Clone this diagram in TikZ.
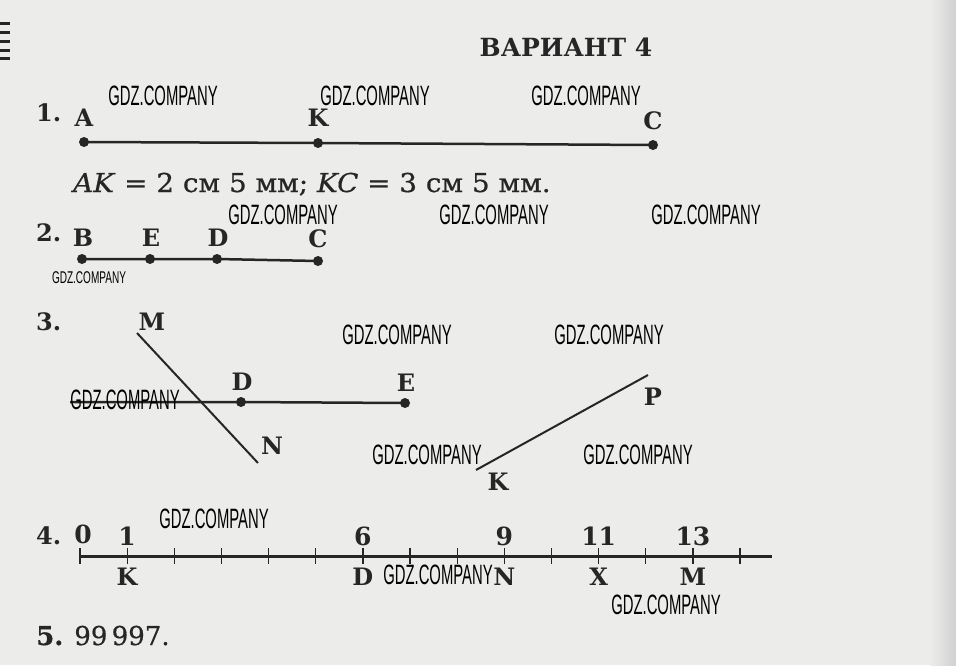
\documentclass[tikz,border=0pt]{standalone}
\usepackage{fontspec}
\usetikzlibrary{calc}
\setmainfont{DejaVu Serif}
\newfontfamily\medfont[FakeBold=0.6]{DejaVu Serif}
\newfontfamily\wmfont{Liberation Sans}
\definecolor{paper}{RGB}{236,236,234}
\definecolor{ink}{RGB}{38,38,38}
\newcommand{\gdz}[1][0.53]{\scalebox{#1}[1]{GDZ.COMPANY}}

\begin{document}
\begin{tikzpicture}[x=1pt,y=-1pt,
  lbl/.style={font=\fontsize{24}{24}\selectfont\bfseries,text=ink,inner sep=0pt},
  txt/.style={font=\fontsize{26}{26}\medfont,text=ink,inner sep=0pt,anchor=base west},
  seg/.style={draw=ink,line width=2.5pt},
  wm/.style={font=\fontsize{28}{28}\wmfont,text=black,inner sep=0pt}]

% page
\fill[paper] (0,0) rectangle (956,665);
\shade[left color=paper,right color=black!18] (930,0) rectangle (956,665);
\useasboundingbox (0,0) rectangle (956,665);
\foreach \y in {23,32,41,50,58}
  \fill[ink] (0,\y-1.5) rectangle (10,\y+1.5);

\node[font=\fontsize{25}{25}\selectfont\bfseries,text=ink,inner sep=0pt] (title) at (566,47) {ВАРИАНТ 4};

% 1
\node[lbl,anchor=base west] (n1) at (36,121) {1.};
\coordinate (A) at (84,142);
\coordinate (K) at (318,143);
\coordinate (C) at (653,145);
\draw[seg] (A) -- (K) -- (C);
\foreach \p in {A,K,C} \fill[ink] (\p) circle (5);
\node[lbl] (lA) at (84,118) {A};
\node[lbl] (lK) at (318,118) {K};
\node[lbl] (lC) at (653,121) {C};
\node[txt] (len) at (73,192) {\scalebox{1.07}[1]{\textit{AK} = 2 см 5 мм; \textit{KC} = 3 см 5 мм.}};

% 2
\node[lbl,anchor=base west] (n2) at (36,241) {2.};
\coordinate (B2) at (82,259);
\coordinate (E2) at (150,259);
\coordinate (D2) at (217,259);
\coordinate (C2) at (318,261);
\draw[seg] (B2) -- (E2) -- (D2) -- (C2);
\foreach \p in {B2,E2,D2,C2} \fill[ink] (\p) circle (5);
\node[lbl] (lB2) at (83,238) {B};
\node[lbl] (lE2) at (151,238) {E};
\node[lbl] (lD2) at (218,238) {D};
\node[lbl] (lC2) at (318,239) {C};

% 3
\node[lbl,anchor=base west] (n3) at (36,330) {3.};
\coordinate (M) at (137,333);
\coordinate (N) at (258,463);
\draw[seg,line width=2pt] (M) -- (N);
\coordinate (R) at (70,402);
\coordinate (D3) at (241,402);
\coordinate (E3) at (405,403);
\draw[seg] (R) -- (D3) -- (E3);
\foreach \p in {D3,E3} \fill[ink] (\p) circle (5);
\coordinate (K3) at (476,470);
\coordinate (P) at (648,375);
\draw[seg,line width=2pt] (K3) -- (P);
\node[lbl] (lM) at (152,322) {M};
\node[lbl] (lN) at (272,446) {N};
\node[lbl] (lD3) at (242,382) {D};
\node[lbl] (lE3) at (406,383) {E};
\node[lbl] (lK3) at (498,482) {K};
\node[lbl] (lP) at (653,397) {P};

% 4
\node[lbl,anchor=base west] (n4) at (36,544) {4.};
\foreach \i in {0,...,14}
  \coordinate (t\i) at (80+47.15*\i,556);
\coordinate (tend) at (772,556);
\draw[seg,line width=3pt] (t0) -- (tend);
\foreach \i in {0,...,14}
  \draw[ink,line width=1.3pt] ($(t\i)+(0,-8)$) -- ($(t\i)+(0,8)$);
\node[lbl,font=\fontsize{25}{25}\selectfont\bfseries] (l0) at ($(t0)+(3,-22)$) {0};
\foreach \i in {1,6,9,11,13}
  \node[lbl,font=\fontsize{25}{25}\selectfont\bfseries] (l\i) at ($(t\i)+(0,-20)$) {\i};
\foreach \i/\t in {1/K,6/D,9/N,11/X,13/M}
  \node[lbl] (p\i) at ($(t\i)+(0,21)$) {\t};

% 5
\node[txt] (n5) at (36,645) {\textbf{5.} 99\,997.};

% watermarks
\node[wm] (w1) at (163,96) {\gdz};
\node[wm] (w2) at (375,96) {\gdz};
\node[wm] (w3) at (586,96) {\gdz};
\node[wm] (w4) at (283,215) {\gdz};
\node[wm] (w5) at (494,215) {\gdz};
\node[wm] (w6) at (706,215) {\gdz};
\node[wm,font=\fontsize{17}{17}\wmfont] (w7) at (89,278) {\gdz[0.59]};
\node[wm] (w8) at (397,335) {\gdz};
\node[wm] (w9) at (609,335) {\gdz};
\node[wm] (w10) at (125,400) {\gdz};
\node[wm] (w11) at (427,455) {\gdz};
\node[wm] (w12) at (638,455) {\gdz};
\node[wm] (w13) at (214,519) {\gdz};
\node[wm] (w14) at (438,575) {\gdz};
\node[wm] (w15) at (666,605) {\gdz};

\end{tikzpicture}
\end{document}
